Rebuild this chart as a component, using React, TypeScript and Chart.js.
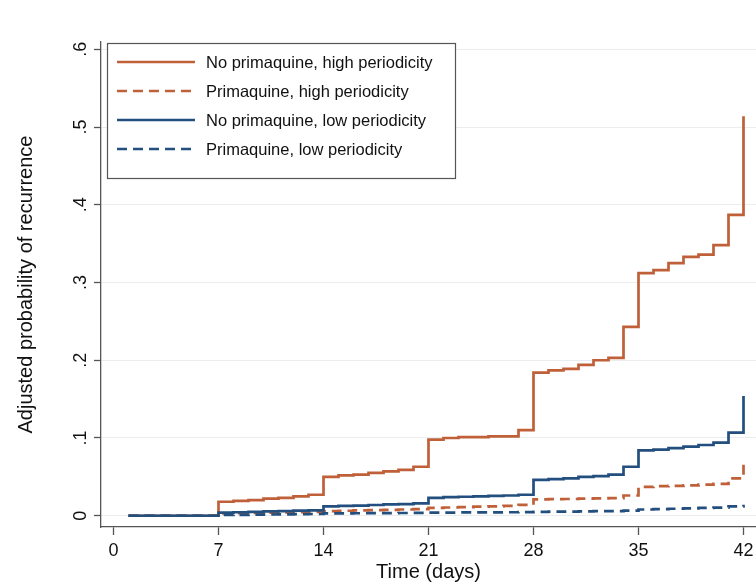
import React, { useEffect, useRef } from "react";
import { Chart, registerables } from "chart.js";

Chart.register(...registerables);

const FONT = "'Liberation Sans', Arial, Helvetica, sans-serif";

const days = [
  1, 2, 3, 4, 5, 6, 7, 8, 9, 10, 11, 12, 13, 14, 15, 16, 17, 18, 19, 20, 21,
  22, 23, 24, 25, 26, 27, 28, 29, 30, 31, 32, 33, 34, 35, 36, 37, 38, 39, 40, 41, 42,
];

const seriesLabels = [
  "No primaquine, high periodicity",
  "Primaquine, high periodicity",
  "No primaquine, low periodicity",
  "Primaquine, low periodicity",
];

const noPqHigh = [
  0, 0, 0, 0, 0, 0,
  0.018, 0.019, 0.020, 0.022, 0.023, 0.025, 0.027,
  0.050, 0.052, 0.053, 0.055, 0.057, 0.059, 0.063,
  0.098, 0.100, 0.101, 0.101, 0.102, 0.102, 0.110,
  0.184, 0.187, 0.189, 0.194, 0.200, 0.203, 0.243,
  0.312, 0.316, 0.325, 0.333, 0.336, 0.348, 0.387, 0.514,
];

const pqHigh = [
  0, 0, 0, 0, 0, 0,
  0.003, 0.0033, 0.0036, 0.004, 0.0043, 0.0047, 0.005,
  0.006, 0.0064, 0.0068, 0.0071, 0.0076, 0.008, 0.0085,
  0.010, 0.0106, 0.011, 0.0116, 0.012, 0.0126, 0.014,
  0.021, 0.0213, 0.0215, 0.022, 0.0222, 0.0227, 0.026,
  0.037, 0.038, 0.0384, 0.039, 0.040, 0.041, 0.048, 0.068,
];

const noPqLow = [
  0, 0, 0, 0, 0, 0,
  0.004, 0.0045, 0.005, 0.0056, 0.006, 0.0066, 0.007,
  0.012, 0.0126, 0.013, 0.0138, 0.0145, 0.015, 0.016,
  0.023, 0.024, 0.0244, 0.025, 0.0255, 0.026, 0.027,
  0.046, 0.047, 0.048, 0.050, 0.051, 0.053, 0.063,
  0.084, 0.085, 0.087, 0.089, 0.091, 0.094, 0.107, 0.154,
];

const pqLow = [
  0, 0, 0, 0, 0, 0,
  0.001, 0.0012, 0.0014, 0.0016, 0.0018, 0.002, 0.0022,
  0.003, 0.0031, 0.0032, 0.0033, 0.0034, 0.0035, 0.0036,
  0.004, 0.0041, 0.0042, 0.0043, 0.0044, 0.0045, 0.0046,
  0.005, 0.0052, 0.0054, 0.0056, 0.0058, 0.006, 0.0065,
  0.008, 0.0085, 0.009, 0.0095, 0.010, 0.0105, 0.012, 0.014,
];

const xTicks = [0, 7, 14, 21, 28, 35, 42];
const yTicks = [0, 0.1, 0.2, 0.3, 0.4, 0.5, 0.6];
const yTickLabels = ["0", ".1", ".2", ".3", ".4", ".5", ".6"];

const ORANGE = "#bf6039";
const BLUE = "#234f7e";

const toPoints = (vals: number[]) => days.map((d, i) => ({ x: d, y: vals[i] }));

const boxLegend = {
  id: "boxLegend",
  afterDatasetsDraw(chart: any) {
    const { ctx, chartArea } = chart;
    const left = chartArea.left + 6;
    const top = chartArea.top + 1;
    const w = 348;
    const h = 135;
    ctx.save();
    ctx.fillStyle = "#ffffff";
    ctx.fillRect(left, top, w, h);
    ctx.strokeStyle = "#555555";
    ctx.lineWidth = 1.2;
    ctx.strokeRect(left + 0.5, top + 0.5, w, h);
    const items = [...chart.data.datasets].sort((a: any, b: any) => a.legendIndex - b.legendIndex);
    items.forEach((ds: any, i: number) => {
      const y = top + 19 + i * 29;
      ctx.beginPath();
      ctx.setLineDash(ds.borderDash || []);
      ctx.strokeStyle = ds.borderColor;
      ctx.lineWidth = ds.borderWidth;
      ctx.moveTo(left + 10, y);
      ctx.lineTo(left + 88, y);
      ctx.stroke();
      ctx.setLineDash([]);
      ctx.fillStyle = "#111111";
      ctx.font = `16.5px ${FONT}`;
      ctx.textBaseline = "middle";
      ctx.textAlign = "left";
      ctx.fillText(ds.label, left + 99, y + 1);
    });
    ctx.restore();
  },
};

export default function App() {
  const ref = useRef<HTMLCanvasElement>(null);

  useEffect(() => {
    document.body.style.margin = "0";
    const canvas = ref.current!;
    const chart = new Chart(canvas, {
      type: "line",
      data: {
        datasets: [
          {
            label: seriesLabels[0],
            data: toPoints(noPqHigh),
            borderColor: ORANGE,
            borderWidth: 2.7,
            stepped: "before",
            order: 4,
            legendIndex: 0,
          } as any,
          {
            label: seriesLabels[1],
            data: toPoints(pqHigh),
            borderColor: ORANGE,
            borderWidth: 2.7,
            borderDash: [10, 6],
            stepped: "before",
            order: 3,
            legendIndex: 1,
          } as any,
          {
            label: seriesLabels[2],
            data: toPoints(noPqLow),
            borderColor: BLUE,
            borderWidth: 2.7,
            stepped: "before",
            order: 2,
            legendIndex: 2,
          } as any,
          {
            label: seriesLabels[3],
            data: toPoints(pqLow),
            borderColor: BLUE,
            borderWidth: 2.7,
            borderDash: [10, 6],
            stepped: "before",
            order: 1,
            legendIndex: 3,
          } as any,
        ],
      },
      options: {
        animation: false,
        responsive: false,
        layout: { padding: { top: 42, right: 0, left: 0, bottom: 0 } },
        elements: { point: { radius: 0, hoverRadius: 0 }, line: { tension: 0, fill: false } },
        plugins: { legend: { display: false }, tooltip: { enabled: false } },
        scales: {
          x: {
            type: "linear",
            min: -0.833,
            max: 42.833,
            afterBuildTicks: (s: any) => {
              s.ticks = xTicks.map((v) => ({ value: v }));
            },
            afterFit: (s: any) => {
              s.height = 57;
              s.paddingLeft = 0;
              s.paddingRight = 0;
            },
            grid: {
              display: true,
              drawOnChartArea: false,
              drawTicks: true,
              tickLength: 8,
              tickColor: "#555555",
              tickWidth: 1.3,
            },
            border: { display: true, color: "#555555", width: 1.3 },
            ticks: {
              autoSkip: false,
              maxRotation: 0,
              padding: 5,
              color: "#111111",
              font: { size: 18, family: FONT },
              callback: (v: any) => String(v),
            },
            title: {
              display: true,
              text: "Time (days)",
              color: "#111111",
              font: { size: 20, family: FONT },
              padding: { top: 0, bottom: 0 },
            },
          },
          y: {
            type: "linear",
            min: -0.0145,
            max: 0.6094,
            afterBuildTicks: (s: any) => {
              s.ticks = yTicks.map((v) => ({ value: v }));
            },
            afterFit: (s: any) => {
              s.width = 101;
              s.paddingTop = 0;
              s.paddingBottom = 0;
            },
            grid: {
              color: "#e9eded",
              lineWidth: 1,
              drawTicks: true,
              tickLength: 7,
              tickColor: "#555555",
              tickWidth: 1.3,
            },
            border: { display: true, color: "#555555", width: 1.3 },
            ticks: {
              autoSkip: false,
              minRotation: 90,
              maxRotation: 90,
              crossAlign: "center",
              padding: 5,
              color: "#111111",
              font: { size: 18, family: FONT },
              callback: (_v: any, i: number) => yTickLabels[i],
            },
            title: {
              display: true,
              text: "Adjusted probability of recurrence",
              color: "#111111",
              font: { size: 20, family: FONT },
              padding: { top: 14, bottom: 0 },
            },
          },
        },
      },
      plugins: [boxLegend],
    });
    return () => chart.destroy();
  }, []);

  return (
    <div style={{ width: 756, height: 584, background: "#ffffff" }}>
      <canvas ref={ref} width={756} height={584} style={{ display: "block" }} />
    </div>
  );
}
